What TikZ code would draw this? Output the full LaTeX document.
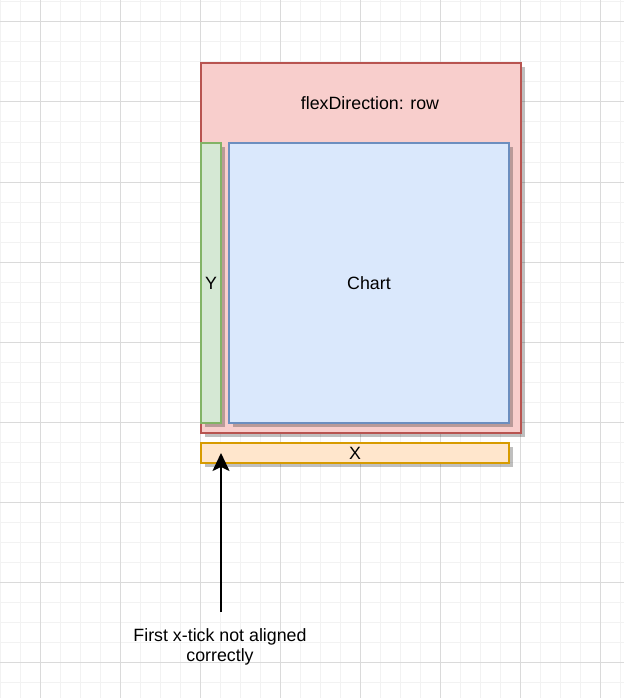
\documentclass[tikz,border=0pt]{standalone}
\usepackage{fontspec}
\setmainfont{Liberation Sans}
\usetikzlibrary{shadows,arrows.meta}
\definecolor{redfill}{HTML}{F8CECC}\definecolor{redline}{HTML}{B85450}
\definecolor{greenfill}{HTML}{D5E8D4}\definecolor{greenline}{HTML}{82B366}
\definecolor{bluefill}{HTML}{DAE8FC}\definecolor{blueline}{HTML}{6C8EBF}
\definecolor{orangefill}{HTML}{FFE6CC}\definecolor{orangeline}{HTML}{D79B00}
\definecolor{gridminor}{HTML}{F2F2F2}\definecolor{gridmajor}{HTML}{DADADA}
\begin{document}
\begin{tikzpicture}[x=1pt,y=-1pt,
  every node/.style={font=\fontsize{17.8}{20}\selectfont},
  box/.style={rectangle,draw,line width=2pt,inner sep=0pt,outer sep=0pt,
    drop shadow={shadow xshift=4pt,shadow yshift=-4pt,fill=black,opacity=0.25}},
  txt/.style={inner sep=0pt,text=black}]
\useasboundingbox (0,0) rectangle (624,698);
\fill[white] (0,0) rectangle (624,698);
% grid
\foreach \i in {0,...,31} {\draw[gridminor,line width=1pt] (\i*20+0.5,0) -- (\i*20+0.5,698);}
\foreach \i in {0,...,34} {\draw[gridminor,line width=1pt] (0,\i*20+2) -- (624,\i*20+2);}
\foreach \i in {0,...,7} {\draw[gridmajor,line width=1pt] (\i*80+40.5,0) -- (\i*80+40.5,698);}
\foreach \i in {0,...,8} {\draw[gridmajor,line width=1pt] (0,\i*80+22) -- (624,\i*80+22);}
% boxes
\node[box,draw=redline,fill=redfill,minimum width=320pt,minimum height=370pt] (outer) at (361,248) {};
\node[txt] (title) at (370,103) {flexDirection: row};
\node[box,draw=greenline,fill=greenfill,minimum width=20pt,minimum height=280pt] (ybox) at (211,283) {};
\node[txt] at (ybox.center) {Y};
\node[box,draw=blueline,fill=bluefill,minimum width=280pt,minimum height=280pt] (chart) at (369,283) {Chart};
\node[box,draw=orangeline,fill=orangefill,minimum width=308pt,minimum height=20pt] (xbox) at (355,453) {X};
% annotation
\node[txt,align=center] (note) at (220,647) {First x-tick not aligned\\correctly};
\coordinate (arrstart) at (221,612);
\coordinate (arrtip) at (221,453);
\draw[line width=2pt,-{Stealth[length=18pt,width=17pt,inset=4pt]}] (arrstart) -- (arrtip);
\end{tikzpicture}
\end{document}
